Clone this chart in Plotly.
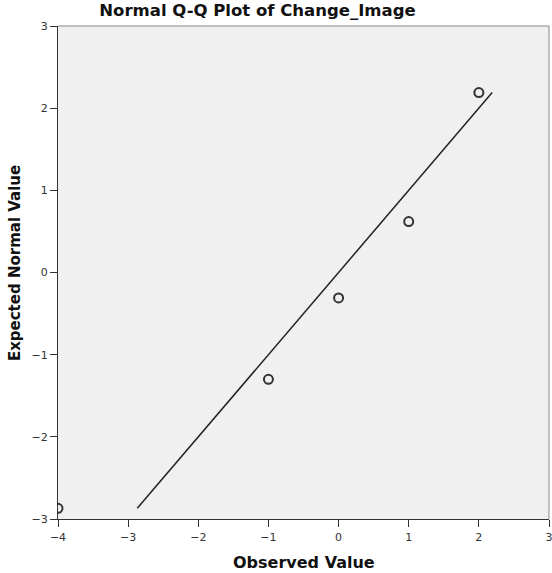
import plotly.graph_objects as go

observed = [-4, -1, 0, 1, 2]
expected = [-2.87, -1.30, -0.31, 0.62, 2.19]
line_x = [-2.87, 2.19]
line_y = [-2.87, 2.19]
x_ticks = [-4, -3, -2, -1, 0, 1, 2, 3]
y_ticks = [-3, -2, -1, 0, 1, 2, 3]

fig = go.Figure()
fig.add_trace(go.Scatter(x=line_x, y=line_y, mode="lines",
                         line=dict(color="#222222", width=1.5), showlegend=False))
fig.add_trace(go.Scatter(x=observed, y=expected, mode="markers",
                         marker=dict(symbol="circle-open", size=9, color="#333333",
                                     line=dict(width=2, color="#333333")),
                         showlegend=False))

axis_common = dict(showgrid=False, zeroline=False, automargin=False,
                   ticks="outside", ticklen=7, tickcolor="#333333", tickwidth=1,
                   showline=True, linecolor="#333333", linewidth=1,
                   ticklabeloverflow="allow",
                   tickfont=dict(size=11, color="#333333"))

fig.update_layout(
    width=552, height=573,
    margin=dict(l=58, r=3, t=26, b=54),
    paper_bgcolor="white", plot_bgcolor="#f0f0f0",
    font=dict(family="DejaVu Sans", color="#222222"),
    title=dict(text="<b>Normal Q-Q Plot of Change_Image</b>", x=0.4665, xanchor="center",
               y=0.992, yanchor="top", font=dict(size=16.5, color="#111111")),
    xaxis=dict(range=[-4, 3], tickvals=x_ticks, ticklabelstandoff=1, **axis_common),
    yaxis=dict(range=[-3, 3], tickvals=y_ticks, ticklabelstandoff=0, **axis_common),
    annotations=[
        dict(text="<b>Observed Value</b>", xref="paper", yref="paper", x=0.5, y=-0.089,
             xanchor="center", yanchor="middle", showarrow=False,
             font=dict(size=16, color="#111111")),
        dict(text="<b>Expected Normal Value</b>", xref="paper", yref="paper", x=-0.0876, y=0.519,
             xanchor="center", yanchor="middle", showarrow=False, textangle=-90,
             font=dict(size=15, color="#111111")),
    ],
    shapes=[dict(type="line", xref="paper", yref="paper", x0=0, x1=1, y0=1, y1=1,
                 line=dict(color="#888888", width=1)),
            dict(type="line", xref="paper", yref="paper", x0=1, x1=1, y0=0, y1=1,
                 line=dict(color="#888888", width=1))],
)

fig.write_html("out.html", config={"displayModeBar": False},
               post_script="document.body.style.margin='0';document.body.style.overflow='hidden';")
